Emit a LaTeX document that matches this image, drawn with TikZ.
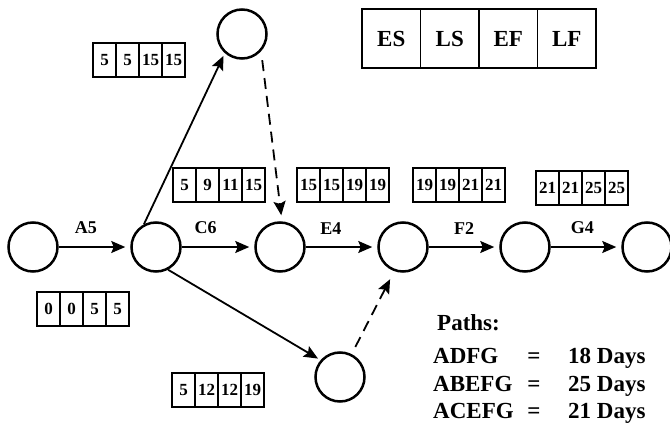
\documentclass[tikz,border=0pt]{standalone}
\usepackage{fontspec}
\setmainfont{Liberation Serif}
\usetikzlibrary{arrows.meta}
\tikzset{
 evt/.style={circle,draw,line width=2.5pt,minimum size=49pt,inner sep=0pt},
 cell/.style={draw,line width=1.6pt,minimum width=23pt,minimum height=34pt,inner sep=0pt,outer sep=0pt,font=\bfseries\fontsize{17}{17}\selectfont,anchor=west},
 bigcell/.style={cell,minimum width=58.5pt,minimum height=59pt,font=\bfseries\fontsize{23}{23}\selectfont},
 act/.style={line width=1.8pt,-{Stealth[length=14pt,width=12pt,inset=2.5pt]}},
 dummy/.style={act,dash pattern=on 11pt off 7pt},
 lbl/.style={font=\bfseries\fontsize{18}{18}\selectfont,inner sep=0pt,above=12pt},
 ptxt/.style={font=\bfseries\fontsize{23}{23}\selectfont,anchor=base west,inner sep=0pt},
}
\newcommand\tcells[8]{%
 \node[#1] (#2a) at (#3,#4) {#5};
 \node[#1] (#2b) at (#2a.east) {#6};
 \node[#1] (#2c) at (#2b.east) {#7};
 \node[#1] (#2d) at (#2c.east) {#8};
}
\begin{document}
\begin{tikzpicture}[x=1pt,y=-1pt]
\useasboundingbox (0,0) rectangle (670,428);
% events
\node[evt] (N1) at (33,247) {};
\node[evt] (N2) at (156,247) {};
\node[evt] (N3) at (242,34) {};
\node[evt] (N4) at (280,247) {};
\node[evt] (N5) at (403,247) {};
\node[evt] (N6) at (525,247) {};
\node[evt] (N7) at (647,247) {};
\node[evt] (N8) at (340,377) {};
% activities
\draw[act,shorten >=5pt] (N1) -- node[lbl,pos=.38] (lA) {A5} (N2);
\draw[act,shorten >=5pt] (N2) -- node[lbl,pos=.33] (lC) {C6} (N4);
\draw[act,shorten >=5pt] (N4) -- node[lbl,pos=.35] (lE) {E4} (N5);
\draw[act,shorten >=5pt] (N5) -- node[lbl,pos=.5] (lF) {F2} (N6);
\draw[act,shorten >=5pt] (N6) -- node[lbl,pos=.45] (lG) {G4} (N7);
\draw[act,shorten >=3pt] (N2.118) -- (N3.228);
\draw[act,shorten >=3pt] (N2.-62) -- (N8.139);
\draw[dummy,shorten <=9pt,shorten >=6pt] (N3.-42) -- ([xshift=2pt]N4.north);
\draw[dummy,shorten <=8pt,shorten >=9pt] (N8.63) -- (N5.250);
% time boxes
\tcells{cell}{b1}{93}{60}{5}{5}{15}{15}
\tcells{cell}{b2}{173}{185}{5}{9}{11}{15}
\tcells{cell}{b3}{297}{185}{15}{15}{19}{19}
\tcells{cell}{b4}{413}{185}{19}{19}{21}{21}
\tcells{cell}{b5}{536}{188}{21}{21}{25}{25}
\tcells{cell}{b0}{37}{309}{0}{0}{5}{5}
\tcells{cell}{b6}{172}{390}{5}{12}{12}{19}
\tcells{bigcell}{key}{362}{38.5}{ES}{LS}{EF}{LF}
% paths
\node[ptxt] (ph) at (437,330) {Paths:};
\node[ptxt] (p1) at (433,363) {ADFG};
\node[ptxt] (p2) at (433,391) {ABEFG};
\node[ptxt] (p3) at (433,418) {ACEFG};
\node[ptxt,anchor=base] (e1) at (534,363) {=};
\node[ptxt,anchor=base] (e2) at (534,391) {=};
\node[ptxt,anchor=base] (e3) at (534,418) {=};
\node[ptxt] (d1) at (568,363) {18 Days};
\node[ptxt] (d2) at (568,391) {25 Days};
\node[ptxt] (d3) at (568,418) {21 Days};
\end{tikzpicture}
\end{document}
